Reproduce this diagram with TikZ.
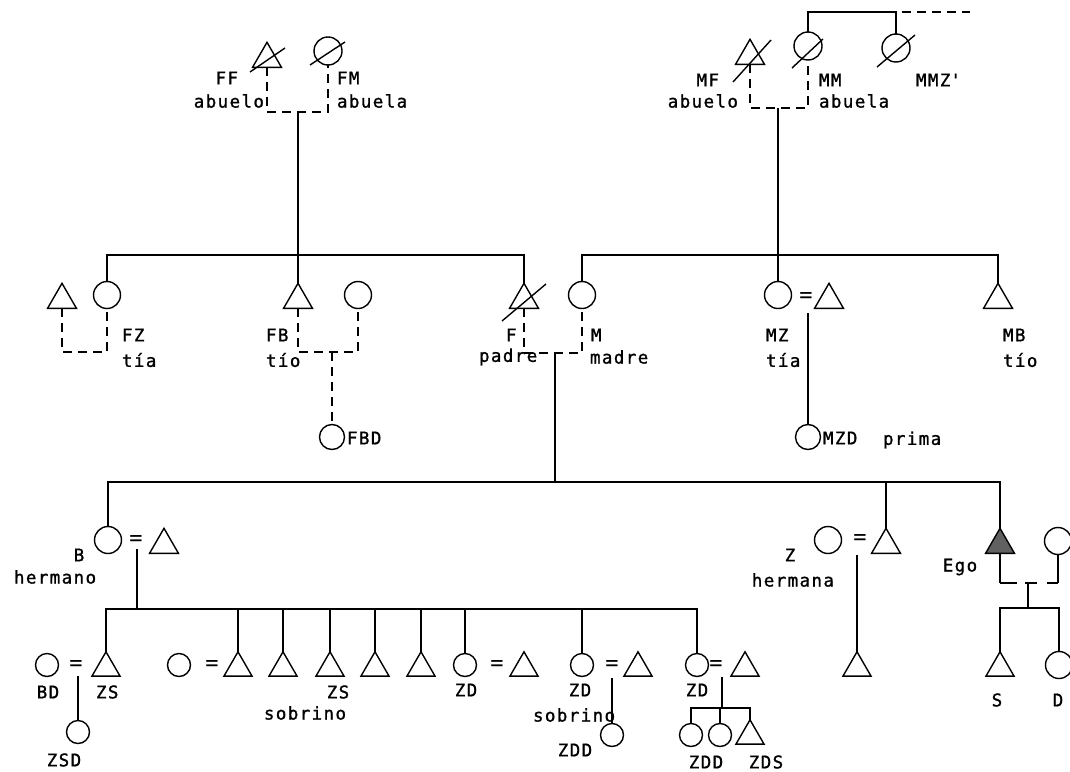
\documentclass[tikz,border=0pt]{standalone}
\usepackage{fontspec}
\newfontfamily\tw[LetterSpace=8,FakeBold=1.2]{DejaVu Sans Mono}
\newfontfamily\twr{DejaVu Sans Mono}
\usetikzlibrary{shapes.geometric}
\begin{document}
\begin{tikzpicture}[x=1pt,y=-1pt, line width=1.4pt,
  tri/.style={draw, regular polygon, regular polygon sides=3, minimum size=33.4pt, inner sep=0pt, outer sep=0pt},
  tris/.style={tri, minimum size=32.4pt},
  circ/.style={draw, circle, minimum size=27pt, inner sep=0pt, outer sep=0pt},
  circt/.style={circ, minimum size=28pt},
  circs/.style={circ, minimum size=23pt},
  tx/.style={font=\tw\fontsize{17.5}{19}\selectfont, inner sep=0pt, outer sep=0pt},
  eq/.style={font=\twr\fontsize{22}{22}\selectfont, inner sep=0pt, outer sep=0pt},
  dsh/.style={dash pattern=on 9pt off 6pt}]
\useasboundingbox (0,0) rectangle (1070,771);
\fill[white] (0,0) rectangle (1070,771);

% ---------- grandparents ----------
\node[tri]   (FF)  at (267,59) {};
\node[circt] (FM)  at (328,51) {};
\node[tri]   (MF)  at (750,56) {};
\node[circt] (MM)  at (808,46) {};
\node[circt] (MMZ) at (896,48) {};
\draw ([shift={(-17,13)}]FF.center) -- ([shift={(18,-11)}]FF.center);
\draw ([shift={(-18,14)}]FM.center) -- ([shift={(17,-9)}]FM.center);
\draw ([shift={(-17,26)}]MF.center) -- ([shift={(21,-16)}]MF.center);
\draw ([shift={(-16,22)}]MM.center) -- ([shift={(15,-7)}]MM.center);
\draw ([shift={(-19,19)}]MMZ.center) -- ([shift={(19,-13)}]MMZ.center);

\node[tx, anchor=east] (lFF) at (238,78) {FF};
\node[tx, anchor=east] (lFFa) at (264,101) {abuelo};
\node[tx, anchor=west] (lFM) at (337,78) {FM};
\node[tx, anchor=west] (lFMa) at (337,101) {abuela};
\node[tx, anchor=east] (lMF) at (719,80) {MF};
\node[tx, anchor=east] (lMFa) at (738,101) {abuelo};
\node[tx, anchor=west] (lMM) at (819,80) {MM};
\node[tx, anchor=west] (lMMa) at (819,101) {abuela};
\node[tx, anchor=west] (lMMZ) at (916,80) {MMZ\textquotesingle};

\coordinate (uFF) at (298,112);
\coordinate (uMF) at (778,108);
\coordinate (tTop) at (0,12);
\coordinate (tDash) at (902,12);
\coordinate (tEnd) at (970,12);
\draw[dsh] (FF.side 2) |- (uFF) -| (FM.south);
\draw[dsh] (MF.side 2) |- (uMF) -| (MM.south);
\draw (MM.north) -- (MM.north |- tTop) -- (MMZ.north |- tTop) -- (MMZ.north);
\draw[dsh] (tDash) -- (tEnd);

% ---------- parents' generation ----------
\node[tri]  (FZh) at (62,300) {};
\node[circ] (FZ)  at (107,295) {};
\node[tri]  (FB)  at (298,300) {};
\node[circ] (FBw) at (358,295) {};
\node[tri]  (F)   at (524,300) {};
\node[circ] (M)   at (582,295) {};
\node[circ] (MZ)  at (778,295) {};
\node[tri]  (MZh) at (829,300) {};
\node[tri]  (MB)  at (998,300) {};
\node[circs,minimum size=25pt] (FBD) at (332,437) {};
\node[circs,minimum size=25pt] (MZD) at (808,437) {};
\draw ([shift={(-22,21)}]F.center) -- ([shift={(22,-16)}]F.center);

\coordinate (bF) at (0,255);
\draw (FZ.north) -- (FZ.north |- bF) -- (F.corner 1 |- bF) -- (F.corner 1);
\draw (uFF) -- (FB.corner 1);
\draw (M.north) -- (M.north |- bF) -- (MB.corner 1 |- bF) -- (MB.corner 1);
\draw (uMF) -- (MZ.north);

\coordinate (uFZ) at (85,352);
\coordinate (uFB) at (332,352);
\coordinate (uFM) at (555,353);
\draw[dsh] (FZh.side 2) |- (uFZ) -| (FZ.south);
\draw[dsh] (FB.side 2) |- (uFB) -| (FBw.south);
\draw[dsh] (uFB) -- (FBD.north);
\draw[dsh] (F.side 2) |- (uFM) -| (M.south);
\node[eq] (eqMZ) at (806,298) {=};
\coordinate (dMZ) at (808,313);
\draw (dMZ) -- (MZD.north);

\node[tx, anchor=west] (lFZ) at (122,335) {FZ};
\node[tx, anchor=west] (lFZt) at (122,360) {tía};
\node[tx, anchor=west] (lFB) at (266,335) {FB};
\node[tx, anchor=west] (lFBt) at (266,360) {tío};
\node[tx, anchor=west] (lFBD) at (347,438) {FBD};
\node[tx, anchor=west] (lF) at (506,335) {F};
\node[tx, anchor=west] (lFp) at (479,357) {padre};
\node[tx, anchor=west] (lM) at (591,335) {M};
\node[tx, anchor=west] (lMm) at (590,357) {madre};
\node[tx, anchor=west] (lMZ) at (766,335) {MZ};
\node[tx, anchor=west] (lMZt) at (766,360) {tía};
\node[tx, anchor=west] (lMB) at (1003,335) {MB};
\node[tx, anchor=west] (lMBt) at (1003,360) {tío};
\node[tx, anchor=west] (lMZD) at (823,438) {MZD};
\node[tx, anchor=west] (lpr) at (883,440) {prima};

% ---------- Ego's generation ----------
\node[circ] (B)   at (108,540) {};
\node[tri]  (Bh)  at (164,545) {};
\node[circ] (Z)   at (828,540) {};
\node[tri]  (Zh)  at (886,545) {};
\node[tri, fill=black!62] (Ego) at (1000,545) {};
\node[circ] (Egow) at (1058,541) {};
\node[eq] (eqB) at (136,540) {=};
\node[eq] (eqZ) at (860,539) {=};

\coordinate (bE) at (0,482);
\draw (B.north) -- (B.north |- bE) -- (Ego.corner 1 |- bE) -- (Ego.corner 1);
\draw (Zh.corner 1) -- (Zh.corner 1 |- bE);
\draw (uFM) -- (uFM |- bE);

\node[tx] (lB) at (79,555) {B};
\node[tx, anchor=west] (lBh) at (14,577) {hermano};
\node[tx] (lZ) at (790,555) {Z};
\node[tx, anchor=east] (lZh) at (834,580) {hermana};
\node[tx] (lEgo) at (960,567) {Ego};

% Ego's union and children
\coordinate (uE) at (1028,583);
\coordinate (bS) at (0,608);
\draw (Ego.side 2) -- (Ego.side 2 |- uE);
\draw (Egow.south) -- (Egow.south |- uE);
\draw[dash pattern=on 17pt off 8pt on 12pt off 10pt on 12pt off 10pt] (Ego.side 2 |- uE) -- (Egow.south |- uE);
\node[tris] (S) at (1000,668) {};
\node[circ] (D) at (1059,665) {};
\draw (uE) -- (uE |- bS);
\draw (S.corner 1) -- (S.corner 1 |- bS) -- (D.north |- bS) -- (D.north);
\node[tx] (lS) at (997,700) {S};
\node[tx] (lD) at (1058,700) {D};

% Z's child
\coordinate (dZ) at (857,555);
\node[tris] (Zk) at (857,668) {};
\draw (dZ) -- (Zk.corner 1);

% ---------- B's children ----------
\coordinate (dB) at (137,549);
\coordinate (bC) at (0,609);
\draw (dB) -- (dB |- bC);
\node[tris]  (k1) at (106,668) {};
\node[circs] (k1w) at (47,665) {};
\node[eq] (eq1) at (76,665) {=};
\node[tris]  (k2) at (238,668) {};
\node[circs] (k2w) at (179,665) {};
\node[eq] (eq2) at (212,665) {=};
\node[tris]  (k3) at (283,668) {};
\node[tris]  (k4) at (330,668) {};
\node[tris]  (k5) at (375,668) {};
\node[tris]  (k6) at (421,668) {};
\node[circs] (k7) at (465,665) {};
\node[eq] (eq7) at (497,665) {=};
\node[tris]  (k7h) at (524,668) {};
\node[circs] (k8) at (582,665) {};
\node[eq] (eq8) at (612,665) {=};
\node[tris]  (k8h) at (638,668) {};
\node[circs] (k9) at (697,665) {};
\node[eq] (eq9) at (716,665) {=};
\node[tris]  (k9h) at (745,668) {};

\draw (k1.corner 1) -- (k1.corner 1 |- bC) -- (k9.north |- bC) -- (k9.north);
\foreach \n in {k2,k3,k4,k5,k6} \draw (\n.corner 1) -- (\n.corner 1 |- bC);
\foreach \n in {k7,k8} \draw (\n.north) -- (\n.north |- bC);

% grandchildren
\node[circs] (ZSD) at (78,732) {};
\coordinate (d1) at (78,676);
\draw (d1) -- (ZSD.north);
\node[circs] (ZDD) at (612,735) {};
\coordinate (d8) at (612,678);
\draw (d8) -- (ZDD.north);
\coordinate (d9) at (722,677);
\coordinate (b9) at (0,708);
\node[circs] (g1) at (691,735) {};
\node[circs] (g2) at (720,735) {};
\node[tris]  (g3) at (750,736) {};
\draw (d9) -- (d9 |- b9);
\draw (g1.north) -- (g1.north |- b9) -- (g3.corner 1 |- b9) -- (g3.corner 1);
\draw (g2.north) -- (g2.north |- b9);

\node[tx] (lBD) at (48,692) {BD};
\node[tx, anchor=west] (lZS1) at (96,692) {ZS};
\node[tx] (lZSD) at (64,760) {ZSD};
\node[tx] (lZS4) at (338,692) {ZS};
\node[tx] (lsob1) at (305,713) {sobrino};
\node[tx] (lZD7) at (466,690) {ZD};
\node[tx] (lZD8) at (580,690) {ZD};
\node[tx, anchor=west] (lsob2) at (533,715) {sobrino};
\node[tx] (lZDD8) at (575,750) {ZDD};
\node[tx] (lZD9) at (697,690) {ZD};
\node[tx] (lZDD9) at (706,762) {ZDD};
\node[tx] (lZDS) at (766,762) {ZDS};
\end{tikzpicture}
\end{document}
